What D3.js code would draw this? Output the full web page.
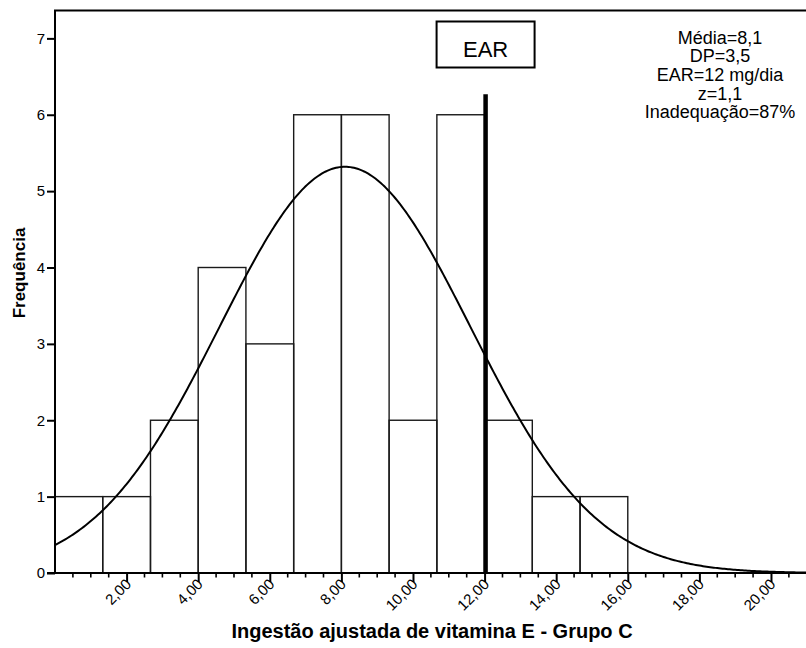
<!DOCTYPE html>
<html>
<head>
<meta charset="utf-8">
<script src="https://cdn.jsdelivr.net/npm/d3@7"></script>
<style>
  html, body { margin: 0; padding: 0; background: #fff; }
  svg { display: block; font-family: "Liberation Sans", Arial, sans-serif; }
</style>
</head>
<body>
<svg id="chart" width="806" height="648"></svg>
<script>
// Histogram of adjusted vitamin E intake, group C
const binEdges = [0, 1.333, 2.667, 4, 5.333, 6.667, 8, 9.333, 10.667, 12, 13.333, 14.667, 16];
const binCounts = [1, 1, 2, 4, 3, 6, 6, 2, 6, 2, 1, 1];
const xTickValues = [2, 4, 6, 8, 10, 12, 14, 16, 18, 20];
const yTickValues = [0, 1, 2, 3, 4, 5, 6, 7];
const statLines = ["Média=8,1", "DP=3,5", "EAR=12 mg/dia", "z=1,1", "Inadequação=87%"];
const meanValue = 8.1;
const sdValue = 3.5;
const earValue = 12;
const earLineTop = 6.27;

const svg = d3.select("#chart");
const m = { left: 55, right: 810, top: 10.5, bottom: 573 };

const x = d3.scaleLinear().domain([0, 21.09]).range([m.left, m.right]);
const y = d3.scaleLinear().domain([0, 7.365]).range([m.bottom, m.top]);

const locale = d3.formatLocale({ decimal: ",", thousands: ".", grouping: [3], currency: ["", ""] });
const fmt = locale.format(".2f");

svg.append("clipPath").attr("id", "plotclip")
  .append("rect").attr("x", m.left).attr("y", m.top)
  .attr("width", m.right - m.left).attr("height", m.bottom - m.top);

// Bars
const bins = binCounts.map((c, i) => ({ x0: binEdges[i], x1: binEdges[i + 1], n: c }));
svg.append("g").selectAll("rect").data(bins).join("rect")
  .attr("x", d => x(d.x0))
  .attr("y", d => y(d.n))
  .attr("width", d => x(d.x1) - x(d.x0))
  .attr("height", d => y(0) - y(d.n))
  .attr("fill", "none")
  .attr("stroke", "#1a1a1a")
  .attr("stroke-width", 1.4);

// Fitted normal curve scaled to counts
const total = d3.sum(binCounts);
const bw = (binEdges[binEdges.length - 1] - binEdges[0]) / binCounts.length;
const pts = d3.range(0, 21.1, 0.05).map(v => [v,
  total * bw * Math.exp(-0.5 * ((v - meanValue) / sdValue) ** 2) / (sdValue * Math.sqrt(2 * Math.PI))]);
svg.append("path")
  .attr("clip-path", "url(#plotclip)")
  .attr("d", d3.line().x(d => x(d[0])).y(d => y(d[1]))(pts))
  .attr("fill", "none")
  .attr("stroke", "#000")
  .attr("stroke-width", 2);

// EAR reference line
svg.append("line")
  .attr("x1", x(earValue) + 1).attr("x2", x(earValue) + 1)
  .attr("y1", y(earLineTop)).attr("y2", y(0))
  .attr("stroke", "#000").attr("stroke-width", 4.5);

// Y axis
const yAxis = d3.axisLeft(y).tickValues(yTickValues).tickSize(8).tickPadding(2).tickFormat(d3.format("d"));
const gy = svg.append("g").attr("transform", `translate(${m.left},0)`).call(yAxis);
gy.select(".domain").remove();
gy.selectAll(".tick line").attr("stroke", "#000").attr("stroke-width", 2);
gy.selectAll(".tick text").attr("font-size", 15).attr("fill", "#000")
  .attr("font-family", "Liberation Sans, Arial, sans-serif");

// X axis minor ticks
const minor = d3.range(0.5, 21.05, 0.5).filter(v => !xTickValues.includes(v));
svg.append("g").selectAll("line").data(minor).join("line")
  .attr("x1", d => x(d)).attr("x2", d => x(d))
  .attr("y1", m.bottom).attr("y2", m.bottom + 4.5)
  .attr("stroke", "#000").attr("stroke-width", 1.6);

// X axis major ticks + labels
const xAxis = d3.axisBottom(x).tickValues(xTickValues).tickSize(9).tickFormat(fmt);
const gx = svg.append("g").attr("transform", `translate(0,${m.bottom})`).call(xAxis);
gx.select(".domain").remove();
gx.selectAll(".tick line").attr("stroke", "#000").attr("stroke-width", 2);
gx.selectAll(".tick text")
  .attr("font-size", 15).attr("fill", "#000")
  .attr("font-family", "Liberation Sans, Arial, sans-serif")
  .attr("text-anchor", "end")
  .attr("dy", null).attr("y", null)
  .attr("transform", "translate(5,12) rotate(-45)");

// Frame: left and top borders, bottom baseline
svg.append("path")
  .attr("d", `M${m.left},${m.bottom}V${m.top}H${m.right}`)
  .attr("fill", "none").attr("stroke", "#000").attr("stroke-width", 2);
svg.append("line")
  .attr("x1", m.left - 8).attr("x2", m.right)
  .attr("y1", m.bottom).attr("y2", m.bottom)
  .attr("stroke", "#000").attr("stroke-width", 2);

// EAR label box
const boxCx = x(earValue) + 1;
svg.append("rect")
  .attr("x", boxCx - 49).attr("y", 21.5)
  .attr("width", 98).attr("height", 46)
  .attr("fill", "#fff").attr("stroke", "#000").attr("stroke-width", 2);
svg.append("text")
  .attr("x", boxCx).attr("y", 57)
  .attr("text-anchor", "middle")
  .attr("font-size", 22)
  .text("EAR");

// Summary statistics
svg.append("g").selectAll("text").data(statLines).join("text")
  .attr("x", 720)
  .attr("y", (d, i) => 43.5 + i * 18.7)
  .attr("text-anchor", "middle")
  .attr("font-size", 18)
  .text(d => d);

// Axis titles
svg.append("text")
  .attr("x", 432).attr("y", 638)
  .attr("text-anchor", "middle")
  .attr("font-size", 20).attr("font-weight", "bold")
  .text("Ingestão ajustada de vitamina E - Grupo C");
svg.append("text")
  .attr("transform", "translate(25,273) rotate(-90)")
  .attr("text-anchor", "middle")
  .attr("font-size", 17).attr("font-weight", "bold")
  .text("Frequência");
</script>
</body>
</html>
